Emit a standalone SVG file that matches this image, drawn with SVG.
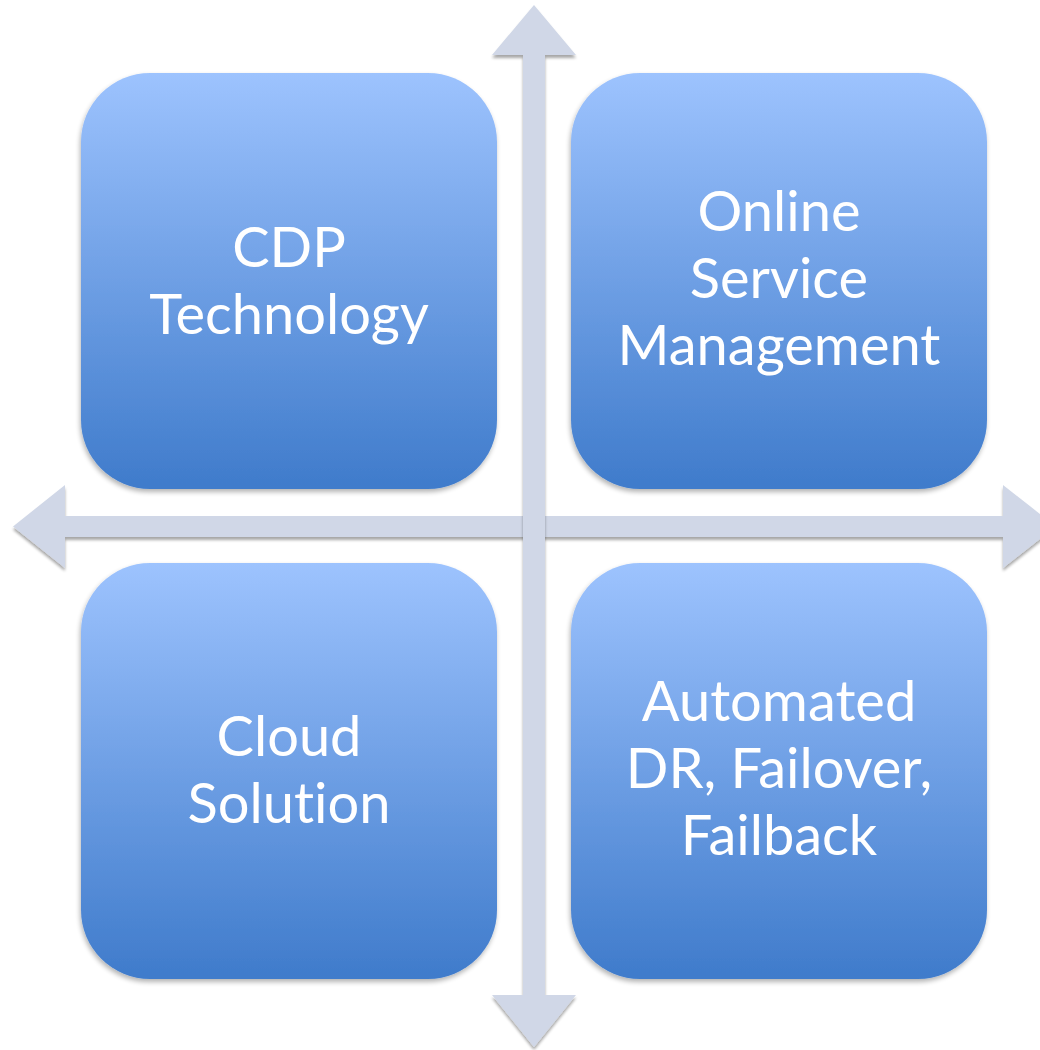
<svg xmlns="http://www.w3.org/2000/svg" width="1040" height="1050" viewBox="0 0 1040 1050">
  <defs>
    <linearGradient id="boxGrad" x1="0" y1="0" x2="0" y2="1">
      <stop offset="0" stop-color="#9dc3fe"/>
      <stop offset="1" stop-color="#3f7bcb"/>
    </linearGradient>
    <filter id="boxShadow" x="-10%" y="-10%" width="120%" height="120%">
      <feGaussianBlur in="SourceAlpha" stdDeviation="2.5"/>
      <feOffset dx="-1" dy="3" result="b"/>
      <feComponentTransfer><feFuncA type="linear" slope="0.3"/></feComponentTransfer>
      <feMerge><feMergeNode/><feMergeNode in="SourceGraphic"/></feMerge>
    </filter>
    <filter id="arrowShadow" x="-10%" y="-10%" width="120%" height="120%">
      <feGaussianBlur in="SourceAlpha" stdDeviation="1.5"/>
      <feOffset dx="0" dy="3" result="b"/>
      <feComponentTransfer><feFuncA type="linear" slope="0.35"/></feComponentTransfer>
      <feMerge><feMergeNode/><feMergeNode in="SourceGraphic"/></feMerge>
    </filter>
  </defs>
  <style>
    .box { fill: url(#boxGrad); filter: url(#boxShadow); }
    .arrow { fill: #d0d7e7; filter: url(#arrowShadow); }
    .label { font-family: "Lato", "Liberation Sans", sans-serif; font-size: 56px; fill: #ffffff; text-anchor: middle; font-variant-ligatures: none; font-feature-settings: "liga" 0, "clig" 0; }
  </style>
  <rect width="1040" height="1050" fill="#ffffff"/>

  <g id="connectors">
    <polygon class="arrow" points="13,526.5 65,485 65,516 1003,516 1003,485 1056,526.5 1003,568 1003,537 65,537 65,568"/>
    <polygon class="arrow" points="534,5 576,55 545,55 545,995 576,995 534,1047 492,995 523,995 523,55 492,55"/>
  </g>

  <g id="node-cdp">
    <rect class="box" x="81" y="73" width="416" height="416" rx="69" ry="69"/>
    <text class="label" x="289" y="267">CDP</text>
    <text class="label" x="289" y="334">Technology</text>
  </g>

  <g id="node-online">
    <rect class="box" x="571" y="73" width="416" height="416" rx="69" ry="69"/>
    <text class="label" x="779" y="231">Online</text>
    <text class="label" x="779" y="298">Service</text>
    <text class="label" x="779" y="365">Management</text>
  </g>

  <g id="node-cloud">
    <rect class="box" x="81" y="563" width="416" height="416" rx="69" ry="69"/>
    <text class="label" x="289" y="756">Cloud</text>
    <text class="label" x="289" y="823">Solution</text>
  </g>

  <g id="node-dr">
    <rect class="box" x="571" y="563" width="416" height="416" rx="69" ry="69"/>
    <text class="label" x="779" y="721">Automated</text>
    <text class="label" x="779" y="788">DR, Failover,</text>
    <text class="label" x="779" y="855">Failback</text>
  </g>
</svg>
